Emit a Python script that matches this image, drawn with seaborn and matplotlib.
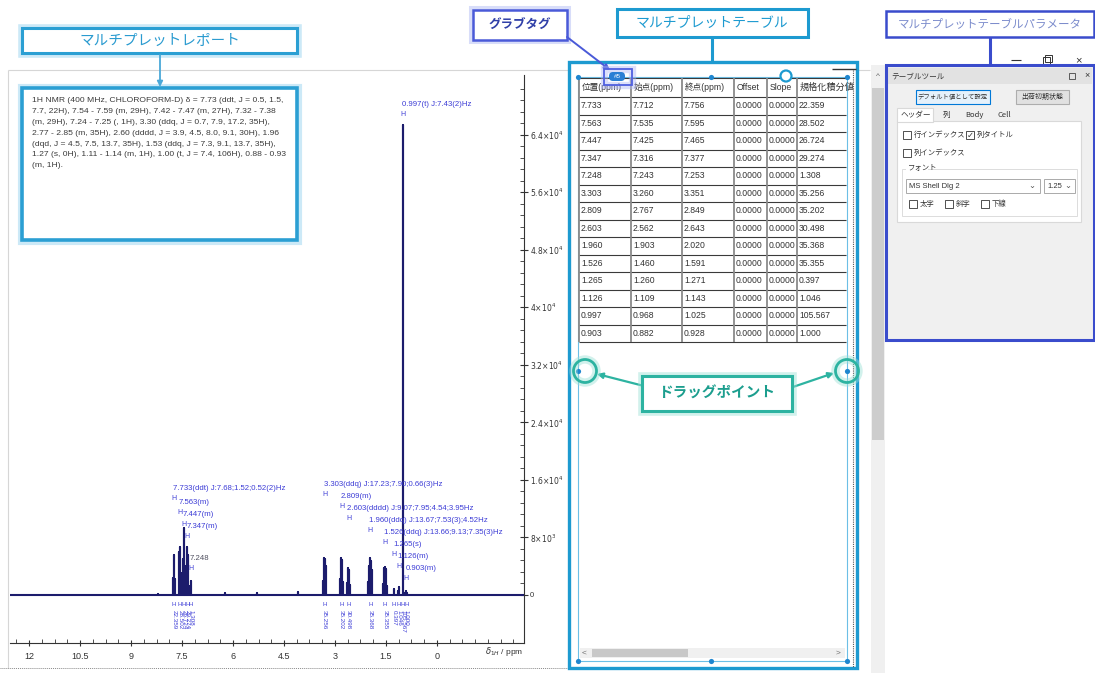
import matplotlib
matplotlib.use('Agg')
import matplotlib.pyplot as plt
import matplotlib.patheffects as pe
import matplotlib.transforms as mtransforms
from matplotlib.patches import Rectangle, Circle, FancyBboxPatch
from matplotlib.ticker import MultipleLocator, FixedLocator, FuncFormatter
import numpy as np
import pandas as pd
import seaborn as sns

# ---- data ----

# individual lines of the 1H spectrum (ppm, intensity)
line_ppm = [8.20, 7.756, 7.745, 7.733, 7.722, 7.712,
            7.595, 7.580, 7.563, 7.548, 7.535,
            7.465, 7.455, 7.447, 7.436, 7.425,
            7.377, 7.362, 7.347, 7.330, 7.316,
            7.253, 7.248, 7.243, 6.24, 5.30, 4.08,
            3.351, 3.330, 3.315, 3.303, 3.290, 3.275, 3.260,
            2.849, 2.830, 2.815, 2.800, 2.785, 2.767,
            2.643, 2.625, 2.610, 2.595, 2.580, 2.562,
            2.020, 2.000, 1.980, 1.960, 1.940, 1.920, 1.903,
            1.591, 1.570, 1.550, 1.530, 1.510, 1.490, 1.460,
            1.265, 1.143, 1.126, 1.109,
            0.997,
            0.928, 0.915, 0.903, 0.882]
line_int = [200, 2400, 5200, 5500, 5000, 2200,
            3000, 6000, 6600, 5800, 3000,
            5000, 8400, 9300, 8000, 4000,
            3000, 6000, 6600, 5500, 2500,
            1200, 2000, 1100, 250, 300, 350,
            2000, 4200, 5100, 5000, 4800, 4000, 1800,
            2200, 4500, 5100, 4800, 4000, 1800,
            1600, 3300, 3700, 3500, 3000, 1400,
            1800, 4000, 5000, 5100, 4700, 3500, 1500,
            1500, 3300, 3800, 3900, 3600, 3000, 1200,
            850, 600, 1100, 600,
            65400,
            300, 450, 500, 300]

# multiplet table
mult_pos = [7.733, 7.563, 7.447, 7.347, 7.248, 3.303, 2.809, 2.603,
            1.960, 1.526, 1.265, 1.126, 0.997, 0.903]
mult_start = [7.712, 7.535, 7.425, 7.316, 7.243, 3.260, 2.767, 2.562,
              1.903, 1.460, 1.260, 1.109, 0.968, 0.882]
mult_end = [7.756, 7.595, 7.465, 7.377, 7.253, 3.351, 2.849, 2.643,
            2.020, 1.591, 1.271, 1.143, 1.025, 0.928]
mult_offset = [0.0] * 14
mult_slope = [0.0] * 14
mult_integral = [22.359, 28.502, 26.724, 29.274, 1.308, 35.256, 35.202,
                 30.498, 35.368, 35.355, 0.397, 1.046, 105.567, 1.000]
mult_desc = ['(ddt) J:7.68;1.52;0.52(2)Hz', '(m)', '(m)', '(m)', '',
             '(ddq) J:17.23;7.90;0.66(3)Hz', '(m)',
             '(dddd) J:9.07;7.95;4.54;3.95Hz',
             '(ddq) J:13.67;7.53(3);4.52Hz',
             '(ddq) J:13.66;9.13;7.35(3)Hz',
             '(s)', '(m)', '(t) J:7.43(2)Hz', '(m)']
table_header = ['位置(ppm)', '始点(ppm)', '終点(ppm)', 'Offset', 'Slope', '規格化積分値']

x_ticks = [12, 10.5, 9, 7.5, 6, 4.5, 3, 1.5, 0]
y_ticks = [0, 8000, 16000, 24000, 32000, 40000, 48000, 56000, 64000]

report_lines = [
    '1H NMR (400 MHz, CHLOROFORM-D) δ = 7.73 (ddt, J = 0.5, 1.5,',
    '7.7, 22H), 7.54 - 7.59 (m, 29H), 7.42 - 7.47 (m, 27H), 7.32 - 7.38',
    '(m, 29H), 7.24 - 7.25 (, 1H), 3.30 (ddq, J = 0.7, 7.9, 17.2, 35H),',
    '2.77 - 2.85 (m, 35H), 2.60 (dddd, J = 3.9, 4.5, 8.0, 9.1, 30H), 1.96',
    '(dqd, J = 4.5, 7.5, 13.7, 35H), 1.53 (ddq, J = 7.3, 9.1, 13.7, 35H),',
    '1.27 (s, 0H), 1.11 - 1.14 (m, 1H), 1.00 (t, J = 7.4, 106H), 0.88 - 0.93',
    '(m, 1H).',
]

# ---- layout (pixels) ----
W, H = 1095, 673
AX_L, AX_T, AX_R, AX_B = 10, 75, 524, 643
label_y_px = [489, 503, 514, 527, 559, 485, 496, 509, 521, 533, 545, 557, 105, 569]

BLUE = '#3c3cd6'
NAVY = '#1c1c6c'

sns.set_theme(style='white')
plt.rcParams['font.family'] = ['Liberation Sans', 'Noto Sans CJK JP']

fig = plt.figure(figsize=(W / 100, H / 100), dpi=100)
fig.patch.set_facecolor('white')


def fig_rect(x0, y0, x1, y1):
    return [x0 / W, 1 - y1 / H, (x1 - x0) / W, (y1 - y0) / H]


# ---- spectrum ----
ax = fig.add_axes(fig_rect(AX_L, AX_T, AX_R, AX_B))
ax.set_xlim(12.56, -2.56)
ax.set_ylim(-6680, 72300)

order = np.argsort(line_ppm)[::-1]
tx, ty = [12.56], [0]
for i in order:
    tx += [line_ppm[i]] * 3
    ty += [0, line_int[i], 0]
tx.append(-2.56)
ty.append(0)
trace = pd.DataFrame({'ppm': tx, 'intensity': ty})
sns.lineplot(data=trace, x='ppm', y='intensity', sort=False, estimator=None,
             color=NAVY, lw=1.5, ax=ax)

ax.set_xlabel('')
ax.set_ylabel('')
for s in ['top', 'left']:
    ax.spines[s].set_visible(False)
for s in ['right', 'bottom']:
    ax.spines[s].set_color('#333333')
    ax.spines[s].set_linewidth(0.8)

ax.xaxis.set_major_locator(FixedLocator(x_ticks))
ax.xaxis.set_minor_locator(MultipleLocator(0.375))
ax.xaxis.set_major_formatter(FuncFormatter(lambda v, p: '%g' % v))
ax.yaxis.tick_right()
ax.yaxis.set_major_locator(FixedLocator(y_ticks))
ax.yaxis.set_minor_locator(FixedLocator(np.arange(0, 72000, 1600)))


def sci(v, pos):
    if v == 0:
        return '0'
    e = int(np.floor(np.log10(abs(v))))
    return r'$%g{\times}10^{%d}$' % (round(v / 10 ** e, 2), e)


ax.yaxis.set_major_formatter(FuncFormatter(sci))
ax.tick_params(axis='x', which='major', direction='inout', length=5, width=0.8,
               labelsize=6.5, pad=4, colors='#333333', bottom=True)
ax.tick_params(axis='x', which='minor', direction='in', length=3, width=0.6,
               bottom=True, colors='#333333')
ax.tick_params(axis='y', which='major', direction='inout', length=6, width=0.8,
               labelsize=5.5, pad=1, colors='#333333', right=True, left=False)
ax.tick_params(axis='y', which='minor', direction='in', length=3, width=0.6,
               right=True, left=False, colors='#333333')

# peak labels and integrals
blend = mtransforms.blended_transform_factory(ax.transData, ax.transAxes)
px_per_ppm = (AX_R - AX_L) / (12.56 + 2.56)


def yfrac(py):
    return (AX_B - py) / (AX_B - AX_T)


for p, d, py, integ in zip(mult_pos, mult_desc, label_y_px, mult_integral):
    col = BLUE if d else '#505060'
    ax.text(p + 1 / px_per_ppm, yfrac(py), '%.3f%s' % (p, d), transform=blend,
            fontsize=5.6, color=col, ha='left', va='center')
    ax.text(p, yfrac(py + 10), 'H', transform=blend, fontsize=5,
            color=BLUE, ha='center', va='center')
    ax.text(p, yfrac(604), 'H', transform=blend, fontsize=4.3,
            color=BLUE, ha='center', va='center')
    ax.text(p, yfrac(610), '%.3f' % integ,
            transform=blend, fontsize=4.5, color=BLUE, ha='center', va='top',
            rotation=270)

# ---- overlay in pixel coordinates ----
ov = fig.add_axes([0, 0, 1, 1], zorder=10)
ov.set_xlim(0, W)
ov.set_ylim(H, 0)
ov.axis('off')


def glow_fx(lw, color):
    return [pe.Stroke(linewidth=lw + 4, foreground=color, alpha=0.45), pe.Normal()]


def rect(x0, y0, x1, y1, ec='none', fc='none', lw=1.0, glow=None, z=2, ls='-'):
    r = Rectangle((x0, y0), x1 - x0, y1 - y0, ec=ec, fc=fc, lw=lw, ls=ls, zorder=z)
    if glow:
        r.set_path_effects(glow_fx(lw, glow))
    ov.add_patch(r)
    return r


def line(xs, ys, color, lw=1.0, ls='-', z=3):
    ov.plot(xs, ys, color=color, lw=lw, ls=ls, zorder=z, solid_capstyle='butt')


def txt(x, y, s, size=6, color='#333333', ha='left', va='center', z=6, **kw):
    return ov.text(x, y, s, fontsize=size, color=color, ha=ha, va=va, zorder=z, **kw)


def arrow(x0, y0, x1, y1, color, lw=1.5):
    ov.annotate('', xy=(x1, y1), xytext=(x0, y0), zorder=7,
                arrowprops=dict(arrowstyle='-|>', color=color, lw=lw,
                                mutation_scale=8, shrinkA=0, shrinkB=0))


# graph window frame
line([8, 870], [70, 70], '#d6d6d6', lw=0.8, z=1)
line([8, 8], [70, 668], '#d6d6d6', lw=0.8, z=1)
line([0, 567], [668, 668], '#8a8a8a', lw=0.7, ls=(0, (1, 1)), z=1)
txt(485, 652, r'$\delta_{1H}$ / ppm', size=6, color='#333333')

# report callout
rect(22, 28, 297, 53, ec='#2b9fd3', fc='white', lw=2.2, glow='#8fd0ee')
txt(160, 41, 'マルチプレットレポート', size=10.5, color='#2a9bd0', ha='center',
    family='Noto Sans CJK JP')
arrow(160, 55, 160, 87, '#4aa8d8', lw=1.3)
rect(22, 88, 297, 240, ec='#2b9fd3', fc='white', lw=2.6, glow='#8fd0ee')
for k, s in enumerate(report_lines):
    txt(32, 101 + k * 10.8, s, size=6.1, color='#3a3a3a')

# grab tag callout
rect(473, 10, 567, 40, ec='#4a5ad8', fc='white', lw=1.8, glow='#aab4f2')
txt(520, 25, 'グラブタグ', size=9, color='#3040a8', ha='center',
    family='Noto Sans CJK JP', weight='bold')
arrow(567, 37, 610, 70, '#4a5ad8', lw=1.4)

# table callout
rect(617, 9, 808, 37, ec='#1d9ad0', fc='white', lw=2.2)
txt(712, 23, 'マルチプレットテーブル', size=10, color='#1d9ad0', ha='center',
    family='Noto Sans CJK JP')
line([712, 712], [37, 62], '#1d9ad0', lw=2.2)

# table frames
rect(569, 62, 857, 668, ec='#1d9ad0', fc='white', lw=2.4, z=1.5)
rect(578, 77, 847, 661, ec='#6cbfe6', lw=0.8, z=2)
line([853, 853], [70, 667], '#555555', lw=0.8, ls=(0, (1, 1)))
line([832, 856], [69, 69], '#333333', lw=1.0)

col_x = [579, 631, 682, 734, 767, 797, 846]
T_TOP, T_HB, RH = 78, 97, 17.5
n_rows = len(mult_pos)
t_bot = T_HB + RH * n_rows
clip = Rectangle((579, 70), 265, 300, transform=ov.transData)
for yy in [T_TOP, T_HB] + [T_HB + RH * (k + 1) for k in range(n_rows)]:
    line([col_x[0], col_x[-1]], [yy, yy], '#3a3a3a', lw=0.8)
for xx in col_x[:-1]:
    line([xx, xx], [T_TOP, t_bot], '#8a8a8a', lw=1.3)
for j, h in enumerate(table_header):
    t = txt(col_x[j] + 3, (T_TOP + T_HB) / 2, h, size=6.6 if j == 5 else 6.2)
    t.set_clip_path(clip)
cols = [['%.3f' % v for v in mult_pos], ['%.3f' % v for v in mult_start],
        ['%.3f' % v for v in mult_end], ['%.4f' % v for v in mult_offset],
        ['%.4f' % v for v in mult_slope], ['%.3f' % v for v in mult_integral]]
for j, c in enumerate(cols):
    for i, s in enumerate(c):
        t = txt(col_x[j] + 2, T_HB + RH * (i + 0.5), s, size=6.2)
        t.set_clip_path(clip)

# horizontal scrollbar
rect(580, 648, 845, 658, fc='#f0f0f0', z=2)
rect(592, 649, 688, 657, fc='#c8c8c8', z=2.5)
txt(584, 653, '<', size=6, color='#707070', ha='center')
txt(838, 653, '>', size=6, color='#707070', ha='center')

# drag handles and grab tag
hx = [578, 711, 847, 578, 847, 578, 711, 847]
hy = [77, 77, 77, 371, 371, 661, 661, 661]
ov.scatter(hx, hy, s=14, color='#1f86cf', zorder=8, linewidths=0)
ov.add_patch(Circle((786, 76), 5.5, ec='#1d9ad0', fc='white', lw=1.6, zorder=8))
rect(604, 69, 632, 85, ec='#5060e0', lw=1.3, glow='#b0b8f5', z=8)
ov.add_patch(FancyBboxPatch((609, 72), 16, 9, boxstyle='round,pad=0,rounding_size=4',
                            fc='#2a7fd4', ec='none', zorder=8.5))
txt(617, 76.5, '#5', size=4.5, color='white', ha='center', z=9)

# drag point callout
for cx in [585, 847]:
    c = Circle((cx, 371), 11.5, ec='#2db3a1', fc='none', lw=2.0, zorder=8)
    c.set_path_effects(glow_fx(2.0, '#9be0d5'))
    ov.add_patch(c)
rect(642, 376, 792, 411, ec='#2db3a1', fc='white', lw=2.2, glow='#9be0d5', z=8)
txt(717, 393, 'ドラッグポイント', size=10.5, color='#1c9e8e', ha='center',
    family='Noto Sans CJK JP', weight='bold', z=9)
arrow(648, 387, 597, 374, '#2db3a1', lw=1.6)
arrow(787, 389, 834, 373, '#2db3a1', lw=1.6)

# vertical scrollbar of the main window
rect(871, 65, 885, 673, fc='#f0f0f0', z=1)
rect(872, 88, 884, 440, fc='#cdcdcd', z=1.2)
txt(878, 76, '^', size=6, color='#606060', ha='center')

# window buttons
line([1011, 1021], [60, 60], '#333333', lw=0.8)
rect(1043, 57, 1050, 64, ec='#333333', lw=0.7)
rect(1045, 55, 1052, 62, ec='#333333', lw=0.7)
txt(1078, 60, '×', size=8, color='#333333', ha='center')

# parameter callout and panel
rect(886, 11, 1094, 37, ec='#3a4ccc', fc='white', lw=1.8)
txt(990, 24, 'マルチプレットテーブルパラメータ', size=8.3, color='#7c8ccc',
    ha='center', family='Noto Sans CJK JP')
line([990, 990], [37, 65], '#3a4ccc', lw=2.2)
rect(886, 65, 1094, 340, fc='#f0f0f0', z=1)
rect(888, 68, 1092, 84, fc='#e2e2e2', z=1.2)
txt(891, 76, 'テーブルツール', size=5.5, family='Noto Sans CJK JP')
rect(1069, 73, 1075, 79, ec='#444444', lw=0.6)
txt(1087, 76, '×', size=6.5, ha='center')
rect(916, 90, 990, 104, fc='#e5f1fb', ec='#0078d7', lw=0.8)
txt(953, 97, 'デフォルト値として設定', size=4.6, ha='center', family='Noto Sans CJK JP')
rect(1016, 90, 1069, 104, fc='#e1e1e1', ec='#adadad', lw=0.8)
txt(1042, 97, '出荷初期状態', size=5.0, ha='center', family='Noto Sans CJK JP')
rect(897, 121, 1081, 222, fc='white', ec='#d9d9d9', lw=0.8)
rect(897, 108, 933, 122, fc='white', ec='#d9d9d9', lw=0.8)
for x, s in [(901, 'ヘッダー'), (943, '列'), (965, 'Body'), (998, 'Cell')]:
    txt(x, 115, s, size=5.5, family='Noto Sans CJK JP')
for x, y, s, chk in [(903, 135, '行インデックス', False), (966, 135, '列タイトル', True),
                     (903, 153, '列インデックス', False)]:
    rect(x, y - 4, x + 8, y + 4, fc='white', ec='#333333', lw=0.6)
    if chk:
        txt(x + 4, y, '✓', size=6, ha='center', family='DejaVu Sans')
    txt(x + 11, y, s, size=5.3, family='Noto Sans CJK JP')
rect(902, 169, 1077, 216, ec='#dcdcdc', lw=0.7)
rect(906, 164, 928, 173, fc='white', z=2.2)
txt(908, 168, 'フォント', size=5.3, family='Noto Sans CJK JP', z=6)
rect(906, 179, 1040, 193, fc='white', ec='#aaaaaa', lw=0.7)
txt(909, 186, 'MS Shell Dlg 2', size=5.5)
txt(1032, 185, '⌄', size=6, ha='center', family='DejaVu Sans', color='#555555')
rect(1044, 179, 1075, 193, fc='white', ec='#aaaaaa', lw=0.7)
txt(1047, 186, '1.25', size=5.5)
txt(1068, 185, '⌄', size=6, ha='center', family='DejaVu Sans', color='#555555')
for x, s in [(909, '太字'), (945, '斜字'), (981, '下線')]:
    rect(x, 200, x + 8, 208, fc='white', ec='#333333', lw=0.6)
    txt(x + 11, 204, s, size=5.3, family='Noto Sans CJK JP')
rect(886, 65, 1094, 340, ec='#3a4ccc', lw=2.2, z=5)

fig.savefig('out.png', dpi=100)
